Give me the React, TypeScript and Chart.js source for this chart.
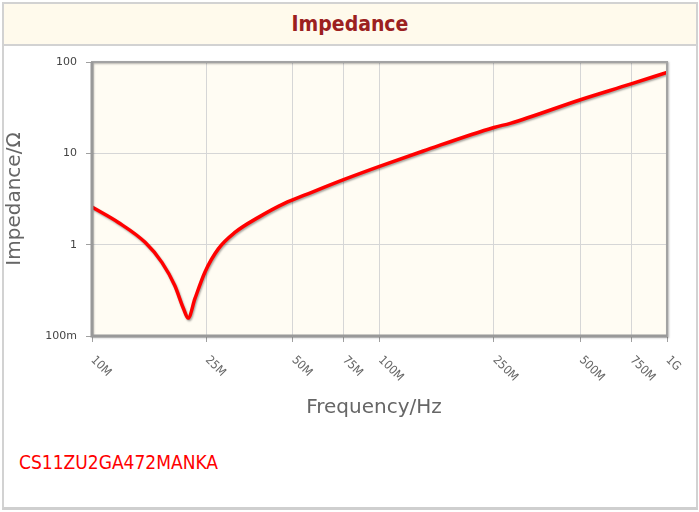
import React, { useEffect, useRef } from "react";
import { Chart, registerables } from "chart.js";

Chart.register(...registerables);

const freqMHz = [10, 12.35, 15.3, 17.5, 19.4, 20.8, 21.6, 22.8, 24.7, 27.5, 31.4, 37.9, 46.9, 55.1, 75, 100, 142, 250, 285, 500, 750, 1000];
const impedance = [2.58, 1.75, 1.06, 0.64, 0.357, 0.2, 0.157, 0.256, 0.5, 0.9, 1.36, 1.99, 2.85, 3.5, 5.15, 7.2, 10.6, 19.2, 21.3, 38.6, 57.5, 77];

const xTickValues = [1e7, 2.5e7, 5e7, 7.5e7, 1e8, 2.5e8, 5e8, 7.5e8, 1e9];
const xTickLabels = ["10M", "25M", "50M", "75M", "100M", "250M", "500M", "750M", "1G"];
const yTickValues = [0.1, 1, 10, 100];
const yTickLabels = ["100m", "1", "10", "100"];

const chartTitle = "Impedance";
const xTitle = "Frequency/Hz";
const yTitle = "Impedance/Ω";
const partNumber = "CS11ZU2GA472MANKA";

const CANVAS_TOP = 46;

export default function App() {
  const ref = useRef<HTMLCanvasElement>(null);

  useEffect(() => {
    const canvas = ref.current;
    if (!canvas) return;

    const decorPlugin = {
      id: "decor",
      beforeDraw(chart: any) {
        const { ctx, chartArea: a } = chart;
        ctx.save();
        ctx.fillStyle = "#fffcf3";
        ctx.fillRect(a.left, a.top, a.right - a.left, a.bottom - a.top);
        ctx.restore();
      },
      beforeDatasetDraw(chart: any) {
        const ctx = chart.ctx;
        ctx.save();
        ctx.shadowColor = "rgba(0,0,0,0.35)";
        ctx.shadowOffsetX = 1;
        ctx.shadowOffsetY = 1.5;
        ctx.shadowBlur = 2;
      },
      afterDatasetDraw(chart: any) {
        chart.ctx.restore();
      },
      afterDraw(chart: any) {
        const { ctx, chartArea: a } = chart;
        const xs = chart.scales.x;
        ctx.save();
        // plot border
        ctx.shadowColor = "rgba(0,0,0,0.3)";
        ctx.shadowOffsetX = 1;
        ctx.shadowOffsetY = 1;
        ctx.shadowBlur = 2;
        ctx.strokeStyle = "#a3a3a3";
        ctx.lineWidth = 2;
        ctx.strokeRect(a.left, a.top, a.right - a.left, a.bottom - a.top);
        ctx.shadowColor = "transparent";
        ctx.strokeStyle = "#999";
        ctx.lineWidth = 3;
        ctx.beginPath();
        ctx.moveTo(a.left, a.top);
        ctx.lineTo(a.left, a.bottom);
        ctx.lineTo(a.right, a.bottom);
        ctx.stroke();

        // x tick labels rotated
        ctx.fillStyle = "#666";
        ctx.font = '12px "DejaVu Sans Condensed", "DejaVu Sans"';
        ctx.textAlign = "left";
        ctx.textBaseline = "top";
        xTickValues.forEach((v, i) => {
          const px = xs.getPixelForValue(v);
          ctx.save();
          ctx.translate(px + 5, a.bottom + 18);
          ctx.rotate(Math.PI / 4);
          ctx.fillText(xTickLabels[i], 0, 0);
          ctx.restore();
        });

        // axis titles
        ctx.fillStyle = "#666";
        ctx.font = '20px "DejaVu Sans"';
        ctx.textAlign = "center";
        ctx.textBaseline = "middle";
        ctx.fillText(xTitle, 374, 408 - CANVAS_TOP);
        ctx.save();
        ctx.translate(15, (a.top + a.bottom) / 2);
        ctx.rotate(-Math.PI / 2);
        ctx.fillText(yTitle, 0, 0);
        ctx.restore();
        ctx.restore();
      },
    };

    const chart = new Chart(canvas, {
      type: "line",
      data: {
        datasets: [
          {
            data: freqMHz.map((f, i) => ({ x: f * 1e6, y: impedance[i] })),
            borderColor: "#ff0000",
            borderWidth: 3.5,
            pointRadius: 0,
            cubicInterpolationMode: "monotone",
            fill: false,
          },
        ],
      },
      options: {
        responsive: false,
        animation: false,
        layout: { padding: { top: 16, right: 32, left: 0, bottom: 0 } },
        plugins: { legend: { display: false }, tooltip: { enabled: false }, title: { display: false } },
        scales: {
          x: {
            type: "logarithmic",
            min: 1e7,
            max: 1e9,
            afterBuildTicks: (s: any) => {
              s.ticks = xTickValues.map((v) => ({ value: v }));
            },
            afterFit: (s: any) => {
              s.height = 110;
            },
            ticks: { display: false, autoSkip: false },
            grid: { color: "#d6d6d6", tickColor: "#a0a0a0", tickLength: 6, lineWidth: 1 },
            border: { display: false },
          },
          y: {
            type: "logarithmic",
            min: 0.1,
            max: 100,
            afterBuildTicks: (s: any) => {
              s.ticks = yTickValues.map((v) => ({ value: v }));
            },
            afterFit: (s: any) => {
              s.width = 92;
            },
            ticks: {
              autoSkip: false,
              padding: 9,
              color: "#444",
              font: { family: "DejaVu Sans", size: 11 },
              callback: (v: any) => {
                const idx = yTickValues.findIndex((t) => Math.abs(t - Number(v)) < 1e-9);
                return idx >= 0 ? yTickLabels[idx] : "";
              },
            },
            grid: { color: "#d6d6d6", tickColor: "#a0a0a0", tickLength: 6, lineWidth: 1 },
            border: { display: false },
          },
        },
      },
      plugins: [decorPlugin],
    } as any);

    return () => chart.destroy();
  }, []);

  return (
    <div style={{ position: "absolute", left: 0, top: 0, width: 699, height: 512, background: "#fff" }}>
      <div
        style={{
          position: "absolute",
          left: 2,
          top: 2,
          width: 696,
          height: 508,
          boxSizing: "border-box",
          borderLeft: "2px solid #d2d2d2",
          borderTop: "2px solid #d2d2d2",
          borderRight: "2px solid #d2d2d2",
          borderBottom: "3px solid #cfcfcf",
        }}
      />
      <div
        style={{
          position: "absolute",
          left: 4,
          top: 4,
          width: 692,
          height: 42,
          boxSizing: "border-box",
          background: "#fffaec",
          borderBottom: "2px solid #d2d2d2",
        }}
      />
      <div
        style={{
          position: "absolute",
          left: 4,
          top: 14,
          width: 692,
          textAlign: "center",
          fontFamily: '"DejaVu Sans Condensed", "DejaVu Sans"',
          fontWeight: "bold",
          fontSize: 21,
          lineHeight: "21px",
          color: "#9b2020",
        }}
      >
        {chartTitle}
      </div>
      <canvas
        ref={ref}
        width={699}
        height={400}
        style={{ position: "absolute", left: 0, top: CANVAS_TOP, width: 699, height: 400 }}
      />
      <div
        style={{
          position: "absolute",
          left: 19,
          top: 453,
          fontFamily: '"DejaVu Sans Condensed", "DejaVu Sans"',
          fontSize: 19,
          lineHeight: "19px",
          color: "#ff0000",
          whiteSpace: "nowrap",
        }}
      >
        {partNumber}
      </div>
    </div>
  );
}
